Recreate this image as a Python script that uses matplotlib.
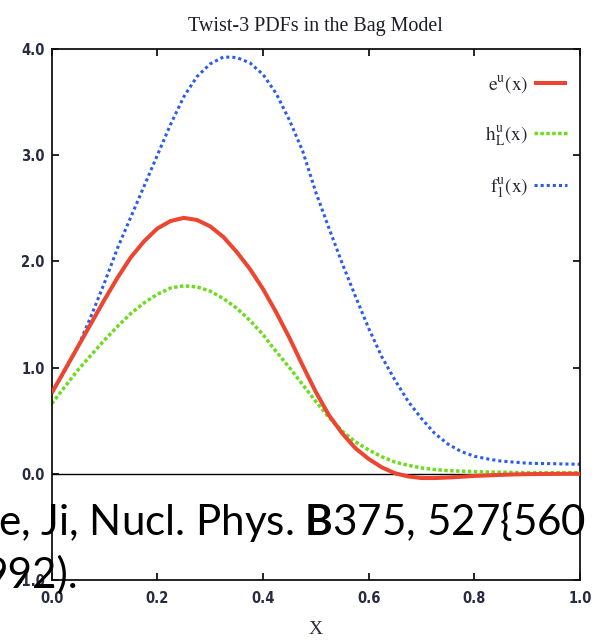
import matplotlib
matplotlib.use("Agg")
import matplotlib.pyplot as plt
from matplotlib import font_manager
from matplotlib.font_manager import FontProperties

# ---------------- data ----------------
x_vals = [0.000, 0.025, 0.050, 0.075, 0.100, 0.125, 0.150, 0.175, 0.200, 0.225,
          0.250, 0.275, 0.300, 0.325, 0.350, 0.375, 0.400, 0.425, 0.450, 0.475,
          0.500, 0.525, 0.550, 0.575, 0.600, 0.625, 0.650, 0.675, 0.700, 0.725,
          0.750, 0.775, 0.800, 0.825, 0.850, 0.875, 0.900, 0.925, 0.950, 0.975, 1.000]

e_u = [0.76, 0.98, 1.20, 1.42, 1.64, 1.85, 2.04, 2.19, 2.31, 2.38,
       2.41, 2.39, 2.33, 2.23, 2.09, 1.93, 1.74, 1.52, 1.28, 1.02,
       0.77, 0.55, 0.38, 0.24, 0.14, 0.06, 0.005, -0.025, -0.04, -0.04,
       -0.035, -0.028, -0.02, -0.015, -0.01, -0.006, -0.003, -0.002, -0.001, 0.0, 0.0]

hL_u = [0.66, 0.82, 0.98, 1.12, 1.26, 1.39, 1.51, 1.61, 1.69, 1.75,
        1.77, 1.76, 1.72, 1.65, 1.56, 1.445, 1.31, 1.15, 1.00, 0.84,
        0.68, 0.53, 0.40, 0.30, 0.225, 0.16, 0.11, 0.08, 0.055, 0.04,
        0.03, 0.025, 0.02, 0.017, 0.015, 0.012, 0.01, 0.01, 0.01, 0.01, 0.01]

f1_u = [0.76, 0.97, 1.20, 1.49, 1.80, 2.13, 2.42, 2.71, 3.00, 3.29,
        3.55, 3.74, 3.86, 3.925, 3.92, 3.87, 3.76, 3.58, 3.33, 3.04,
        2.65, 2.31, 1.98, 1.67, 1.37, 1.10, 0.88, 0.68, 0.52, 0.38,
        0.28, 0.21, 0.165, 0.14, 0.12, 0.11, 0.10, 0.097, 0.095, 0.092, 0.09]

series_labels = [r'$\mathrm{e^{u}(x)}$', r'$\mathrm{h_{L}^{u}(x)}$', r'$\mathrm{f_{1}^{u}(x)}$']
x_ticks = [0.0, 0.2, 0.4, 0.6, 0.8, 1.0]
x_ticklabels = ["0.0", "0.2", "0.4", "0.6", "0.8", "1.0"]
y_ticks = [-1.0, 0.0, 1.0, 2.0, 3.0, 4.0]
y_ticklabels = ["-1.0", "0.0", "1.0", "2.0", "3.0", "4.0"]
title_text = "Twist-3 PDFs in the Bag Model"
xlabel_text = "X"
overlay_line1 = r"e, Ji, Nucl. Phys. $\mathbf{B}$375, 527{560"
overlay_line2 = "992)."

# ---------------- fonts ----------------
names = {f.name for f in font_manager.fontManager.ttflist}
tick_prop = None
if "Liberation Sans Narrow" in names:
    tick_prop = FontProperties(family="Liberation Sans Narrow", weight="bold", size=11)
else:
    cands = [f for f in font_manager.fontManager.ttflist
             if "condensed" in f.fname.lower() and "sans" in f.fname.lower()
             and "bold" in f.fname.lower() and "oblique" not in f.fname.lower()
             and "italic" not in f.fname.lower()]
    if cands:
        tick_prop = FontProperties(fname=cands[0].fname, size=10.5)
    else:
        tick_prop = FontProperties(family="DejaVu Sans", weight="bold", stretch="condensed", size=10)
serif = "Liberation Serif"
overlay_font = "Lato"

plt.rcParams["mathtext.fontset"] = "custom"
plt.rcParams["mathtext.rm"] = overlay_font
plt.rcParams["mathtext.bf"] = overlay_font + ":bold"

fig = plt.figure(figsize=(5.96, 6.40), dpi=100)
W, H = 596.0, 640.0
ax = fig.add_axes([51.7 / W, 1 - 580 / H, (580 - 51.7) / W, (580 - 49) / H])

red = "#ec4530"
green = "#6ddc1e"
blue = "#2a5cf0"

ax.axhline(0.0, color="black", lw=1.0, zorder=1)
ax.plot(x_vals, e_u, color=red, lw=2.9, solid_capstyle="butt", label=series_labels[0], zorder=3)
ax.plot(x_vals, hL_u, color=green, lw=2.5, linestyle=(0, (1.0, 0.7)), dash_capstyle="butt",
        label=series_labels[1], zorder=2)
ax.plot(x_vals, f1_u, color=blue, lw=2.2, linestyle=(0, (1.0, 1.0)), dash_capstyle="butt",
        label=series_labels[2], zorder=2)

ax.set_xlim(0, 1)
ax.set_ylim(-1, 4)
ax.set_xticks(x_ticks)
ax.set_xticklabels(x_ticklabels)
ax.set_yticks(y_ticks)
ax.set_yticklabels(y_ticklabels)
tick_color = "#262b40"
for lab in ax.get_xticklabels() + ax.get_yticklabels():
    lab.set_fontproperties(tick_prop)
    lab.set_color(tick_color)
ax.tick_params(direction="in", length=5, width=1.2, top=True, right=True,
               labeltop=False, labelright=False, colors="black")
ax.tick_params(axis="x", pad=8, labelcolor=tick_color)
ax.tick_params(axis="y", pad=5, labelcolor=tick_color)
for sp in ax.spines.values():
    sp.set_linewidth(1.3)
    sp.set_color("#111111")

ax.set_xlabel(xlabel_text, fontfamily=serif, fontsize=14, color=tick_color, labelpad=11)

leg_prop = FontProperties(family=serif, size=14, math_fontfamily="stix")
ax.legend(loc="upper right", bbox_to_anchor=(0.9754, 0.9524), markerfirst=False,
          frameon=False, prop=leg_prop,
          handlelength=1.7, labelspacing=1.45, handletextpad=0.28,
          borderaxespad=0.0, borderpad=0.0, labelcolor="#2a2530")

fig.text(315.7 / W, 1 - 31 / H, title_text, ha="center", va="baseline",
         fontfamily=serif, fontsize=14.4, color="#1c1c28")

fig.text(-2 / W, 1 - 535 / H, overlay_line1, ha="left", va="baseline",
         fontfamily=overlay_font, fontsize=30.3, color="black", zorder=10)
fig.text(78 / W, 1 - 588 / H, overlay_line2, ha="right", va="baseline",
         fontfamily=overlay_font, fontsize=30.3, color="black", zorder=10)

fig.savefig("out.png", dpi=100)
